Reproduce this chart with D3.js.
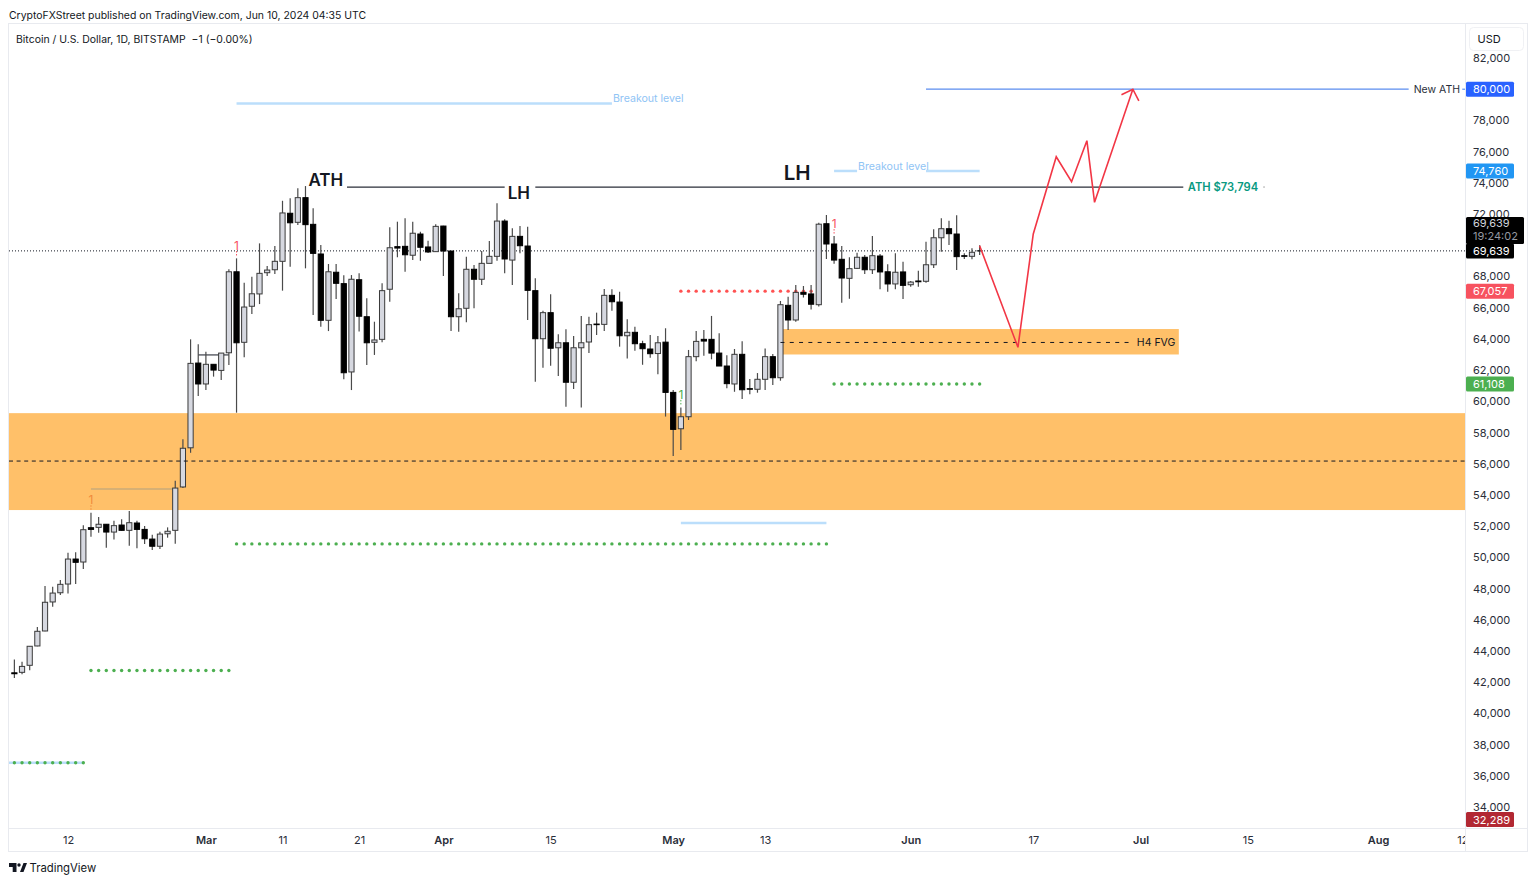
<!DOCTYPE html>
<html>
<head>
<meta charset="utf-8">
<script src="https://cdn.jsdelivr.net/npm/d3@7"></script>
<style>
  html, body { margin: 0; padding: 0; background: #fff; }
  svg { display: block; }
  text { font-family: Inter, "Noto Sans", sans-serif; }
  .domain, .tick line { display: none; }
</style>
</head>
<body>
<div id="vis"></div>
<script>
// daily candles, Feb 5 to Jun 10 2024
var firstDay = "2024-02-05";

var opens = [
  42600, 42630, 43080, 44320, 45280, 47140, 47730, 48290, 49890, 49700, 51900, 51920, 52120, 51620, 52070, 51730, 52200, 51790, 51170, 50710, 51510, 51730, 54510, 57020, 62450,
  61110, 62370, 61980, 63110, 68300, 63780, 66090, 66880, 68240, 68430, 68970, 72050, 71470, 73050, 71340, 69440, 65190, 68270, 67540, 61880, 67790, 65420, 63780, 63970, 67180, 69910, 69930, 69360, 70720, 69890, 69590,
  71230, 69630, 65420, 65960, 68460, 67820, 68840, 69290, 71550, 69050, 70570, 69950, 67090, 64010, 65680, 63430, 63750, 61220, 63430, 63800, 64950, 64930, 66790, 66360, 64200, 64420, 63690, 63350, 63060, 63790,
  60570, 58240, 59010, 62860, 63970, 63970, 63090, 62260, 61110, 63010, 60810, 60770, 61410, 62860, 61510, 66150, 65210, 66980, 66880, 66190, 71380, 70080, 69100, 67880, 68520, 69230, 68430, 69310, 68300, 67520, 68290,
  67470, 67710, 67690, 68750, 70480, 71060, 70720, 69330, 69290, 69640
];
var highs = [
  43460, 43310, 44320, 45530, 48160, 48120, 48550, 50300, 50320, 52050, 52860, 52580, 52130, 52350, 52440, 52970, 52350, 52010, 51450, 51640, 51920, 54910, 57560, 63970, 63650,
  63180, 62370, 63090, 68460, 69160, 67600, 67980, 70120, 68670, 69950, 72850, 73010, 73650, 73794, 72370, 70020, 68800, 68800, 68070, 68090, 68200, 66600, 65100, 67560, 71150, 71510, 71730, 71510, 70870, 70290, 71340,
  71250, 69630, 66920, 69270, 68730, 69630, 70270, 72690, 71660, 71090, 71230, 71190, 67880, 65800, 66860, 64290, 64610, 64180, 65470, 65420, 65680, 67200, 67180, 67020, 65250, 64780, 63880, 64250, 64180, 64680,
  60720, 59610, 63290, 64500, 64570, 65470, 64360, 62950, 63350, 63840, 61430, 61810, 63390, 63030, 66430, 66700, 67450, 67390, 67450, 71440, 71940, 70590, 69950, 69230, 69520, 69370, 70590, 69440, 68780, 69480, 68950,
  67710, 68370, 70230, 71020, 71730, 71570, 71920, 69480, 69800, 70000
];
var lows = [
  42260, 42500, 42760, 44300, 45260, 46830, 47580, 47690, 48290, 49250, 51320, 51580, 50620, 51150, 51710, 50740, 50580, 50850, 50470, 50530, 51260, 50870, 54440, 56700, 60340,
  60720, 61580, 61360, 62320, 59270, 62820, 65590, 66230, 68030, 68160, 67090, 68620, 71300, 68520, 65530, 64780, 64500, 66550, 61410, 60720, 64480, 62320, 62970, 63780, 66380, 69230, 68300, 69050, 69010, 69500, 69590,
  68030, 64500, 64460, 65060, 65960, 67450, 68840, 69010, 68200, 67450, 69480, 65210, 61250, 62150, 62280, 61620, 59650, 60790, 59610, 63090, 64250, 64500, 65800, 63500, 62750, 63240, 62340, 62790, 61740, 59020,
  56490, 56880, 58800, 62560, 62920, 62690, 62260, 60830, 60610, 60150, 60450, 60550, 60720, 61040, 61320, 64570, 65100, 66650, 65890, 66070, 69120, 68820, 66320, 66570, 68480, 68160, 68160, 67180, 67020, 67180, 66550,
  67340, 67340, 67600, 68540, 69590, 70020, 68410, 69120, 69100, 69370
];
var closes = [
  42540, 43010, 44300, 45260, 47120, 47710, 48270, 49890, 49680, 51770, 51790, 52120, 51620, 52030, 51730, 52220, 51790, 51190, 50710, 51490, 51670, 54440, 56990, 62430, 61110,
  62370, 62000, 63090, 68300, 63750, 66040, 66890, 68200, 68410, 68970, 72070, 71440, 73050, 71320, 69480, 65190, 68300, 67560, 61830, 67820, 65450, 63750, 63930, 67090, 69840, 69820, 69390, 70770, 69870, 69570, 71210,
  69630, 65420, 65930, 68460, 67820, 68840, 69290, 71550, 69120, 70570, 69970, 67110, 64010, 65680, 63400, 63750, 61220, 63430, 63750, 64910, 64910, 66790, 66380, 64200, 64420, 63690, 63370, 63050, 63750, 60570,
  58200, 59010, 62860, 63840, 63860, 63090, 62260, 61130, 63010, 60740, 60770, 61410, 62860, 61510, 66190, 65210, 66980, 66860, 66220, 71350, 70080, 69050, 67900, 68500, 69230, 68430, 69330, 68290, 67520, 68270, 67430,
  67640, 67660, 68750, 70480, 71060, 70740, 69270, 69290, 69550, 69639
];

// axis ticks
var priceTicks = [34000, 36000, 38000, 40000, 42000, 44000, 46000, 48000, 50000, 52000, 54000, 56000, 58000, 60000, 62000, 64000, 66000, 68000, 72000, 74000, 76000, 78000, 80000, 82000];
var timeTicks = ["2024-02-12", "2024-03-01", "2024-03-11", "2024-03-21", "2024-04-01", "2024-04-15", "2024-05-01", "2024-05-13", "2024-06-01", "2024-06-17", "2024-07-01", "2024-07-15", "2024-08-01", "2024-08-12"];
var timeLabels = ["12", "Mar", "11", "21", "Apr", "15", "May", "13", "Jun", "17", "Jul", "15", "Aug", "12"];

// one dot per day levels
var dotRed = [["2024-05-02", "2024-05-19", 67057]];
var dotGreen = [
  ["2024-02-05", "2024-02-14", 36840],
  ["2024-02-15", "2024-03-04", 42750],
  ["2024-03-05", "2024-05-21", 50860],
  ["2024-05-22", "2024-06-10", 61108]
];

// light blue thick segments
var blueSegs = [
  ["2024-02-03", "2024-02-14", 36840],
  ["2024-03-05", "2024-04-23", 79085],
  ["2024-05-22", "2024-05-25", 74760],
  ["2024-06-03", "2024-06-10", 74760],
  ["2024-05-02", "2024-05-21", 52200]
];

// black resistance line, broken by the labels
var athSegs = [
  ["2024-03-19T10:00Z", "2024-04-09"],
  ["2024-04-13", "2024-07-06T14:00Z"]
];
var athPrice = 73730;

// zones
var bigZone = [53030, 59240];
var fvgZone = [63000, 64630];
var fvgMid = 63770;
var bigMid = 56170;

// projected path in red
var pathDates = ["2024-06-10", "2024-06-15", "2024-06-17", "2024-06-20", "2024-06-22", "2024-06-24", "2024-06-25", "2024-06-30"];
var pathPrices = [69970, 63460, 70720, 75670, 74070, 76700, 72750, 80000];

var lastPrice = 69639;

// price labels on the axis
var axisLabels = [
  {text: "80,000", price: 80000, color: "#2962ff"},
  {text: "74,760", price: 74760, color: "#2196f3"},
  {text: "69,639", price: 69639, color: "#000000"},
  {text: "67,057", price: 67057, color: "#f7525f"},
  {text: "61,108", price: 61108, color: "#4caf50"},
  {text: "32,289", price: 32289, color: "#b22833"}
];

var svgWidth = 1536;
var svgHeight = 883;
var pane = {left: 9, top: 24, right: 1465, bottom: 828};

var svg = d3.select('#vis').append('svg')
  .attr('width', svgWidth)
  .attr('height', svgHeight);

var xScale = d3.scaleUtc()
  .domain([new Date("2024-02-12"), new Date("2024-08-01")])
  .range([68, 1378]);
var yScale = d3.scaleLinear()
  .domain([34000, 82000])
  .range([807, 58]);

var day = function(s) { return new Date(s); };
var dates = d3.utcDay.range(day(firstDay), d3.utcDay.offset(day(firstDay), opens.length));

svg.append('clipPath').attr('id', 'paneClip').append('rect')
  .attr('x', pane.left)
  .attr('y', pane.top)
  .attr('width', pane.right - pane.left)
  .attr('height', pane.bottom - pane.top);
svg.append('clipPath').attr('id', 'timeClip').append('rect')
  .attr('x', pane.left)
  .attr('y', pane.bottom)
  .attr('width', pane.right - pane.left)
  .attr('height', 24);

// frame
var frame = svg.append('g').attr('fill', 'none').attr('stroke', '#e8eaef');
frame.append('rect')
  .attr('x', pane.left - 0.5).attr('y', pane.top - 0.5)
  .attr('width', 1519).attr('height', 828);
frame.append('line').attr('x1', pane.right + 0.5).attr('x2', pane.right + 0.5).attr('y1', pane.top).attr('y2', 852);
frame.append('line').attr('x1', pane.left).attr('x2', 1528).attr('y1', pane.bottom + 0.5).attr('y2', pane.bottom + 0.5);

// header text
svg.append('text')
  .attr('x', 9).attr('y', 19)
  .attr('font-size', 10.45).attr('fill', '#131722')
  .text('CryptoFXStreet published on TradingView.com, Jun 10, 2024 04:35 UTC');
svg.append('text')
  .attr('x', 16).attr('y', 43)
  .attr('font-size', 10.45).attr('fill', '#131722')
  .attr('xml:space', 'preserve')
  .text('Bitcoin / U.S. Dollar, 1D, BITSTAMP  \u22121 (\u22120.00%)');

var graph = svg.append('g').attr('clip-path', 'url(#paneClip)');

// orange zones
var zoneColor = '#ffc069';
graph.append('rect')
  .attr('x', pane.left)
  .attr('width', pane.right - pane.left)
  .attr('y', yScale(bigZone[1]))
  .attr('height', yScale(bigZone[0]) - yScale(bigZone[1]))
  .attr('fill', zoneColor);
graph.append('rect')
  .attr('x', xScale(day("2024-05-15")))
  .attr('width', xScale(day("2024-07-06")) - xScale(day("2024-05-15")))
  .attr('y', yScale(fvgZone[1]))
  .attr('height', yScale(fvgZone[0]) - yScale(fvgZone[1]))
  .attr('fill', zoneColor);

// last price dotted line
graph.append('line')
  .attr('x1', pane.left).attr('x2', pane.right)
  .attr('y1', yScale(lastPrice)).attr('y2', yScale(lastPrice))
  .attr('stroke', '#131722').attr('stroke-dasharray', '1,2');

// grey level inside the big zone
graph.append('line')
  .attr('x1', xScale(day("2024-02-15"))).attr('x2', xScale(day("2024-02-26")))
  .attr('y1', yScale(54380)).attr('y2', yScale(54380))
  .attr('stroke', '#b0a080').attr('stroke-opacity', 0.5).attr('stroke-width', 2);

// light blue thick levels
graph.selectAll('.blueSeg')
  .data(blueSegs)
  .enter().append('line')
  .attr('class', 'blueSeg')
  .attr('x1', function(d) { return Math.max(pane.left, xScale(day(d[0]))); })
  .attr('x2', function(d) { return xScale(day(d[1])); })
  .attr('y1', function(d) { return yScale(d[2]); })
  .attr('y2', function(d) { return yScale(d[2]); })
  .attr('stroke', '#bbdefb').attr('stroke-width', 2.5);

// dotted levels, a dot for each day
function drawDots(levels, color) {
  levels.forEach(function(level) {
    graph.selectAll(null)
      .data(d3.utcDay.range(day(level[0]), d3.utcDay.offset(day(level[1]), 1)))
      .enter().append('circle')
      .attr('cx', function(d) { return xScale(d); })
      .attr('cy', yScale(level[2]))
      .attr('r', 1.7)
      .attr('fill', color);
  });
}
drawDots(dotRed, '#ff5252');
drawDots(dotGreen, '#4caf50');

// small black level near the start of March
graph.append('line')
  .attr('x1', xScale(day("2024-02-29"))).attr('x2', xScale(day("2024-03-04")))
  .attr('y1', yScale(62970)).attr('y2', yScale(62970))
  .attr('stroke', '#131722');

// candles
var candle = graph.selectAll('.candle')
  .data(dates)
  .enter().append('g')
  .attr('class', 'candle');

candle.append('line')
  .attr('x1', function(d) { return xScale(d); })
  .attr('x2', function(d) { return xScale(d); })
  .attr('y1', function(d, i) { return yScale(highs[i]); })
  .attr('y2', function(d, i) { return yScale(lows[i]); })
  .attr('stroke', '#4a4a4a')
  .attr('stroke-width', 1.2);

candle.append('rect')
  .attr('x', function(d) { return xScale(d) - 2.6; })
  .attr('width', 5.2)
  .attr('y', function(d, i) { return yScale(Math.max(opens[i], closes[i])); })
  .attr('height', function(d, i) { return Math.abs(yScale(opens[i]) - yScale(closes[i])); })
  .attr('fill', function(d, i) { return closes[i] >= opens[i] ? '#d6d8e0' : '#000'; })
  .attr('stroke', function(d, i) { return closes[i] >= opens[i] ? '#3a3a3a' : '#000'; })
  .attr('stroke-width', 1);

// dashed centre lines of the zones
graph.append('line')
  .attr('x1', pane.left).attr('x2', pane.right)
  .attr('y1', yScale(bigMid)).attr('y2', yScale(bigMid))
  .attr('stroke', '#131722').attr('stroke-dasharray', '4,3.6');
graph.append('line')
  .attr('x1', xScale(day("2024-05-15"))).attr('x2', xScale(day("2024-06-30")))
  .attr('y1', yScale(fvgMid)).attr('y2', yScale(fvgMid))
  .attr('stroke', '#131722').attr('stroke-dasharray', '4,5.3');

// resistance at the all time high
graph.selectAll('.athLine')
  .data(athSegs)
  .enter().append('line')
  .attr('class', 'athLine')
  .attr('x1', function(d) { return xScale(day(d[0])); })
  .attr('x2', function(d) { return xScale(day(d[1])); })
  .attr('y1', yScale(athPrice)).attr('y2', yScale(athPrice))
  .attr('stroke', '#2a2e39').attr('stroke-width', 1.2);

// new ATH target line
graph.append('line')
  .attr('x1', xScale(day("2024-06-03"))).attr('x2', xScale(day("2024-08-05")))
  .attr('y1', yScale(80000)).attr('y2', yScale(80000))
  .attr('stroke', '#5b8def').attr('stroke-width', 1.2);
graph.append('line')
  .attr('x1', xScale(day("2024-08-12"))).attr('x2', xScale(day("2024-08-14")))
  .attr('y1', yScale(80000)).attr('y2', yScale(80000))
  .attr('stroke', '#5b8def').attr('stroke-width', 1.2);

// projected zigzag with its arrow
var zigzag = d3.line()
  .x(function(d) { return xScale(day(d)); })
  .y(function(d, i) { return yScale(pathPrices[i]); });
graph.append('path')
  .attr('d', zigzag(pathDates))
  .attr('fill', 'none')
  .attr('stroke', '#f23645')
  .attr('stroke-width', 1.6);
var tipX = xScale(day(pathDates[pathDates.length - 1]));
var tipY = yScale(pathPrices[pathPrices.length - 1]);
graph.append('path')
  .attr('d', 'M' + (tipX - 11.4) + ',' + (tipY + 5.6) + 'L' + tipX + ',' + tipY + 'L' + (tipX + 6) + ',' + (tipY + 11.6))
  .attr('fill', 'none')
  .attr('stroke', '#f23645')
  .attr('stroke-width', 1.6);

// text on the chart
function note(date, price, dx, dy, str, size, color, weight, anchor) {
  return graph.append('text')
    .attr('x', xScale(day(date)) + dx)
    .attr('y', yScale(price) + dy)
    .attr('font-size', size)
    .attr('fill', color)
    .attr('font-weight', weight || 400)
    .attr('text-anchor', anchor || 'start')
    .text(str);
}
note("2024-03-14", athPrice, 3, -1, 'ATH', 17, '#131722', 600);
note("2024-04-09", athPrice, 3, 12, 'LH', 17, '#131722', 600);
note("2024-05-20", athPrice, -35, -7, 'LH', 20.5, '#131722', 600);
note("2024-04-23", 79085, 1, -1, 'Breakout level', 10.6, '#90c4f5');
note("2024-05-25", 74760, 1, -1, 'Breakout level', 10.6, '#90c4f5');
note("2024-07-06", athPrice, 9, 4, 'ATH $73,794', 11.2, '#089981', 600);
note("2024-08-05", 80000, 5, 4, 'New ATH', 10.5, '#2a2e39');
note("2024-06-30", fvgMid, 4, 4, 'H4 FVG', 10.5, '#131722');

// the small "1" pivots, each with a short dashed stem down to the bar
function pivot(date, price, stem, color) {
  note(date, price, 0, 0, '1', 12, color, 400, 'middle');
  graph.append('line')
    .attr('x1', xScale(day(date))).attr('x2', xScale(day(date)))
    .attr('y1', yScale(price) + 1).attr('y2', yScale(price) + stem)
    .attr('stroke', color).attr('stroke-dasharray', '1.5,1.5');
}
pivot("2024-03-05", 69695, 6, '#f7525f');
pivot("2024-02-15", 53400, 6, '#f08a3c');
pivot("2024-05-22", 71100, 6, '#f7525f');
pivot("2024-05-02", 60150, 6, '#4caf50');

// faint dash after the ATH label
graph.append('line')
  .attr('x1', xScale(day("2024-07-17T00:00Z")))
  .attr('x2', xScale(day("2024-07-17T06:00Z")))
  .attr('y1', yScale(athPrice)).attr('y2', yScale(athPrice))
  .attr('stroke', '#aaa');

// price axis
svg.append('g')
  .attr('class', 'axis yAxis')
  .attr('transform', 'translate(1465,0)')
  .call(d3.axisRight(yScale).tickValues(priceTicks).tickSize(0).tickPadding(8).tickFormat(d3.format(',')))
  .call(function(g) {
    g.selectAll('text')
      .attr('font-size', 11)
      .attr('fill', '#2a2e39')
      .style('font-family', 'Inter, "Noto Sans", sans-serif');
  });

// time axis, the clip sits on an outer group so that it stays in page coordinates
svg.append('g')
  .attr('clip-path', 'url(#timeClip)')
  .append('g')
  .attr('class', 'axis xAxis')
  .attr('transform', 'translate(0,' + pane.bottom + ')')
  .call(d3.axisBottom(xScale)
    .tickValues(timeTicks.map(day))
    .tickSize(0).tickPadding(8)
    .tickFormat(function(d, i) { return timeLabels[i]; }))
  .call(function(g) {
    g.selectAll('text')
      .attr('font-size', 11)
      .attr('fill', '#2a2e39')
      .attr('font-weight', function(d, i) { return isNaN(+timeLabels[i]) ? 600 : 400; })
      .style('font-family', 'Inter, "Noto Sans", sans-serif');
  });

// black countdown box above the last price label
svg.append('rect')
  .attr('x', 1466).attr('y', yScale(lastPrice) - 34)
  .attr('width', 58).attr('height', 27)
  .attr('rx', 1.5).attr('fill', '#000');
svg.append('text')
  .attr('x', 1473).attr('y', yScale(lastPrice) - 24)
  .attr('font-size', 11).attr('fill', '#d1d4dc').text('69,639');
svg.append('text')
  .attr('x', 1473).attr('y', yScale(lastPrice) - 11)
  .attr('font-size', 11).attr('fill', '#9598a1').text('19:24:02');

// price labels, clamped to the bottom of the pane
var labelY = function(d) { return Math.min(yScale(d.price), pane.bottom - 8.5); };
var priceTag = svg.selectAll('.priceTag')
  .data(axisLabels)
  .enter().append('g')
  .attr('class', 'priceTag');
priceTag.append('rect')
  .attr('x', 1466)
  .attr('y', function(d) { return labelY(d) - 7.5; })
  .attr('width', 48)
  .attr('height', 15)
  .attr('rx', 1.5)
  .attr('fill', function(d) { return d.color; });
priceTag.append('text')
  .attr('x', 1473)
  .attr('y', function(d) { return labelY(d) + 4; })
  .attr('font-size', 11)
  .attr('fill', '#fff')
  .text(function(d) { return d.text; });

// USD button
svg.append('rect')
  .attr('x', 1469.5).attr('y', 27.5)
  .attr('width', 54).attr('height', 23)
  .attr('rx', 4).attr('fill', '#fff').attr('stroke', '#f0f1f4');
svg.append('text')
  .attr('x', 1477.5).attr('y', 43)
  .attr('font-size', 11).attr('fill', '#131722').text('USD');

// TradingView mark
svg.append('path')
  .attr('d', 'M9 863h7.5v9h-3.8v-5h-3.7z M20 872l3.5-9h3.5l-3.5 9z')
  .attr('fill', '#131722');
svg.append('circle')
  .attr('cx', 19).attr('cy', 865).attr('r', 1.7)
  .attr('fill', '#131722');
svg.append('text')
  .attr('x', 29.5).attr('y', 872)
  .attr('font-size', 11.3).attr('fill', '#131722').text('TradingView');
</script>
</body>
</html>
